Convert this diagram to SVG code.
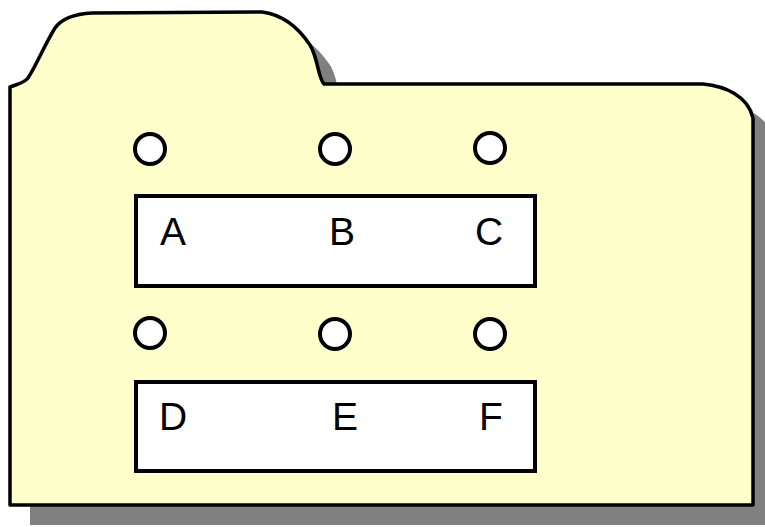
<svg xmlns="http://www.w3.org/2000/svg" width="765" height="527" viewBox="0 0 765 527">
  <defs>
    <style>
      .folder { fill: #FFFFCC; stroke: #000; stroke-width: 3.5; stroke-linejoin: round; }
      .shadow { fill: #808080; stroke: none; }
      .hole { fill: #FFFFFF; stroke: #000; stroke-width: 4; }
      .box { fill: #FFFFFF; stroke: #000; stroke-width: 4; }
      .lbl { font-family: "Liberation Sans", Arial, sans-serif; font-size: 39px; fill: #000; }
    </style>
    <path id="folderShape" d="M 10,505 L 10,87 C 18,84 24,83 28,78 C 36,66 45,44 55,28 C 62,18 75,14 92,13 L 262,12 C 285,15 300,30 310,45 C 318,58 318,78 324,84 L 703,84 C 725,86 748,96 753,118 L 753,505 Z"/>
  </defs>
  <rect x="0" y="0" width="765" height="527" fill="#FFFFFF"/>
  <g id="folder">
    <use href="#folderShape" class="shadow" transform="translate(20,20)"/>
    <use href="#folderShape" class="folder"/>
  </g>
  <g id="connectors"></g>
  <g id="hole-a"><circle class="hole" cx="150" cy="149" r="15"/></g>
  <g id="hole-b"><circle class="hole" cx="335" cy="149" r="15"/></g>
  <g id="hole-c"><circle class="hole" cx="490" cy="148" r="15"/></g>
  <g id="row-abc">
    <rect class="box" x="136" y="196" width="399" height="90"/>
    <text class="lbl" x="160" y="245">A</text>
    <text class="lbl" x="329" y="245">B</text>
    <text class="lbl" x="475" y="245">C</text>
  </g>
  <g id="hole-d"><circle class="hole" cx="150" cy="333" r="15"/></g>
  <g id="hole-e"><circle class="hole" cx="335" cy="334" r="15"/></g>
  <g id="hole-f"><circle class="hole" cx="490" cy="334" r="15"/></g>
  <g id="row-def">
    <rect class="box" x="136" y="382" width="399" height="89"/>
    <text class="lbl" x="159" y="430">D</text>
    <text class="lbl" x="332" y="430">E</text>
    <text class="lbl" x="479" y="430">F</text>
  </g>
</svg>
